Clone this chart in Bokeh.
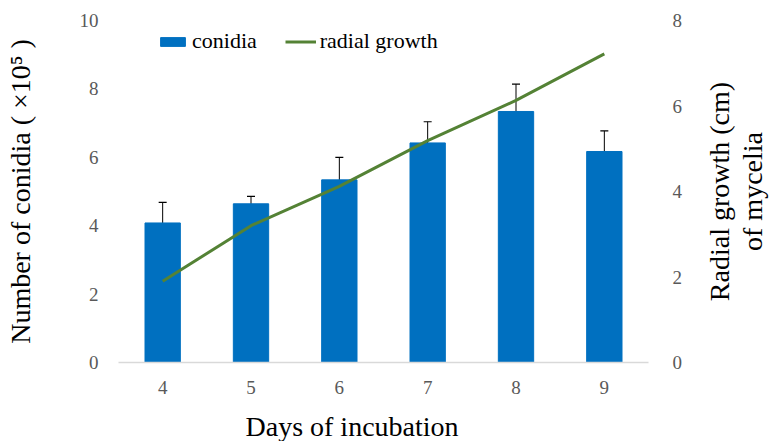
from bokeh.plotting import figure
from bokeh.layouts import row
from bokeh.models import (ColumnDataSource, Range1d, LinearAxis, Whisker, TeeHead,
                          Title, FixedTicker)
from bokeh.embed import file_html
from bokeh.resources import INLINE

# ---- data ----
days = ["4", "5", "6", "7", "8", "9"]
conidia = [4.08, 4.64, 5.34, 6.42, 7.34, 6.17]
conidia_err = [0.60, 0.22, 0.66, 0.62, 0.80, 0.60]
radial_growth = [1.90, 3.20, 4.12, 5.19, 6.13, 7.22]
left_ticks = [0, 2, 4, 6, 8, 10]
right_ticks = [0, 2, 4, 6, 8]

FONT = "Liberation Serif"
BLUE = "#0070C0"
GREEN = "#548235"
GRAY = "#595959"

upper = [c + e for c, e in zip(conidia, conidia_err)]
lower = [c - e for c, e in zip(conidia, conidia_err)]
src = ColumnDataSource(dict(day=days, conidia=conidia, upper=upper, lower=lower))

H = 441
p = figure(width=685, height=H, x_range=days, y_range=Range1d(0, 10),
           output_backend="svg", toolbar_location=None,
           min_border_left=118, min_border_right=30, min_border_top=20, min_border_bottom=79)
p.extra_y_ranges = {"right": Range1d(0, 8)}
p.x_range.range_padding = 0
p.outline_line_color = None
p.xgrid.grid_line_color = None
p.ygrid.grid_line_color = None

p.vbar(x="day", top="conidia", width=0.4, source=src, fill_color=BLUE,
       line_color=BLUE, legend_label="conidia")
p.line(x=days, y=radial_growth, y_range_name="right", line_color=GREEN,
       line_width=3, legend_label="radial growth")

wh = Whisker(source=src, base="day", upper="upper", lower="lower",
             line_color="black", line_width=1,
             upper_head=TeeHead(size=8, line_color="black", line_width=1.2),
             lower_head=TeeHead(size=8, line_color="black", line_width=1.2))
p.add_layout(wh)

# axes
def style_axis(ax, standoff):
    ax.axis_line_color = None
    ax.major_tick_line_color = None
    ax.minor_tick_line_color = None
    ax.major_label_text_font = FONT
    ax.major_label_text_font_size = "19px"
    ax.major_label_text_color = GRAY
    ax.major_label_standoff = standoff

yax = p.yaxis[0]
style_axis(yax, 14)
yax.ticker = FixedTicker(ticks=left_ticks)
yax.axis_label = "Number of conidia ( \u00d710\u2075 )"
yax.axis_label_text_font = FONT
yax.axis_label_text_font_size = "28px"
yax.axis_label_text_font_style = "normal"
yax.axis_label_text_color = "black"
yax.axis_label_standoff = 41

style_axis(p.xaxis[0], 12)
p.xaxis[0].axis_line_color = "#d9d9d9"
p.xaxis[0].axis_line_width = 1.5

rax = LinearAxis(y_range_name="right", ticker=FixedTicker(ticks=right_ticks))
style_axis(rax, 18)
p.add_layout(rax, "right")

def make_title(text, align, offset, standoff):
    return Title(text=text, align=align, offset=offset, standoff=standoff,
                 text_font=FONT, text_font_size="28px", text_font_style="normal",
                 text_color="black")

bt = make_title("Days of incubation", "left", 127, 12)
try:
    bt.padding = (0, 0, 12, 0)
    bt.standoff = 0
except Exception:
    bt.standoff = 12
p.add_layout(bt, "below")

# legend
lg = p.legend[0]
lg.orientation = "horizontal"
lg.location = (39, 308)
lg.border_line_color = None
lg.background_fill_alpha = 0
lg.padding = 0
lg.margin = 0
lg.spacing = 28
lg.glyph_width = 31
lg.glyph_height = 11
lg.label_standoff = 4
lg.label_text_font = FONT
lg.label_text_font_size = "22px"
lg.label_text_color = "black"

# narrow companion figure carrying the right-hand (upward reading) axis title
p2 = figure(width=84, height=H, output_backend="svg", toolbar_location=None,
            x_axis_location=None, y_axis_location=None,
            min_border_left=82, min_border_right=0, min_border_top=20, min_border_bottom=79)
p2.outline_line_color = None
p2.grid.visible = False
p2.add_layout(make_title("of mycelia", "center", 0, 0), "left")
p2.add_layout(make_title("Radial growth (cm)", "center", 0, 0), "left")

layout = row(p, p2)
open("out.html", "w").write(file_html(layout, INLINE))
